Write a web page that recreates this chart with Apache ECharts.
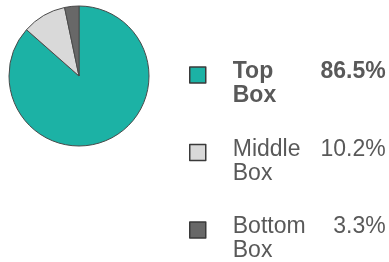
<!DOCTYPE html>
<html><head><meta charset="utf-8">
<script src="https://cdn.jsdelivr.net/npm/echarts@6/dist/echarts.min.js"></script>
<style>html,body{margin:0;padding:0;background:#fff}#c{width:389px;height:262px}</style>
</head><body><div id="c"></div>
<script>
const categories = ['Top Box', 'Middle Box', 'Bottom Box'];
const values = [86.5, 10.2, 3.3];
const colors = ['#1cb2a5', '#d9d9d9', '#686868'];

const chart = echarts.init(document.getElementById('c'), null, {renderer: 'canvas'});
const fmtVal = v => v.toFixed(1) + '%';
const FF = 'Liberation Sans, Arial, sans-serif';
chart.setOption({
  animation: false,
  legend: {
    type: 'plain',
    orient: 'vertical',
    left: 189, top: 46, height: 400, width: 200, padding: 0,
    itemWidth: 16, itemHeight: 16, itemGap: 16,
    icon: 'rect',
    itemStyle: {borderColor: '#3a3a3a', borderWidth: 1.5},
    selectedMode: false,
    textStyle: {
      fontFamily: FF, fontSize: 23, color: '#595959',
      rich: {
        sp: {fontSize: 10, lineHeight: 18, width: 22},
        n: {fontSize: 23, lineHeight: 24, width: 80, color: '#595959', fontFamily: FF},
        v: {fontSize: 23, lineHeight: 24, width: 73, align: 'right', color: '#595959', fontFamily: FF},
        nb: {fontSize: 23, lineHeight: 24, width: 80, fontWeight: 'bold', color: '#595959', fontFamily: FF},
        vb: {fontSize: 23, lineHeight: 24, width: 73, align: 'right', fontWeight: 'bold', color: '#595959', fontFamily: FF}
      }
    },
    formatter: function (name) {
      const i = categories.indexOf(name);
      const parts = name.split(' ');
      const b = i === 0 ? 'b' : '';
      return '{sp| }\n{sp| }{n' + b + '|' + parts[0] + '}{v' + b + '|' + fmtVal(values[i]) + '}\n{sp| }{n' + b + '|' + parts.slice(1).join(' ') + '}';
    }
  },
  series: [{
    type: 'pie',
    center: [79, 76],
    radius: 70,
    startAngle: 90,
    clockwise: true,
    label: {show: false},
    labelLine: {show: false},
    emphasis: {disabled: true},
    itemStyle: {borderColor: '#4a4a4a', borderWidth: 1},
    data: categories.map((c, i) => ({name: c, value: values[i], itemStyle: {color: colors[i]}}))
  }]
});
</script></body></html>
